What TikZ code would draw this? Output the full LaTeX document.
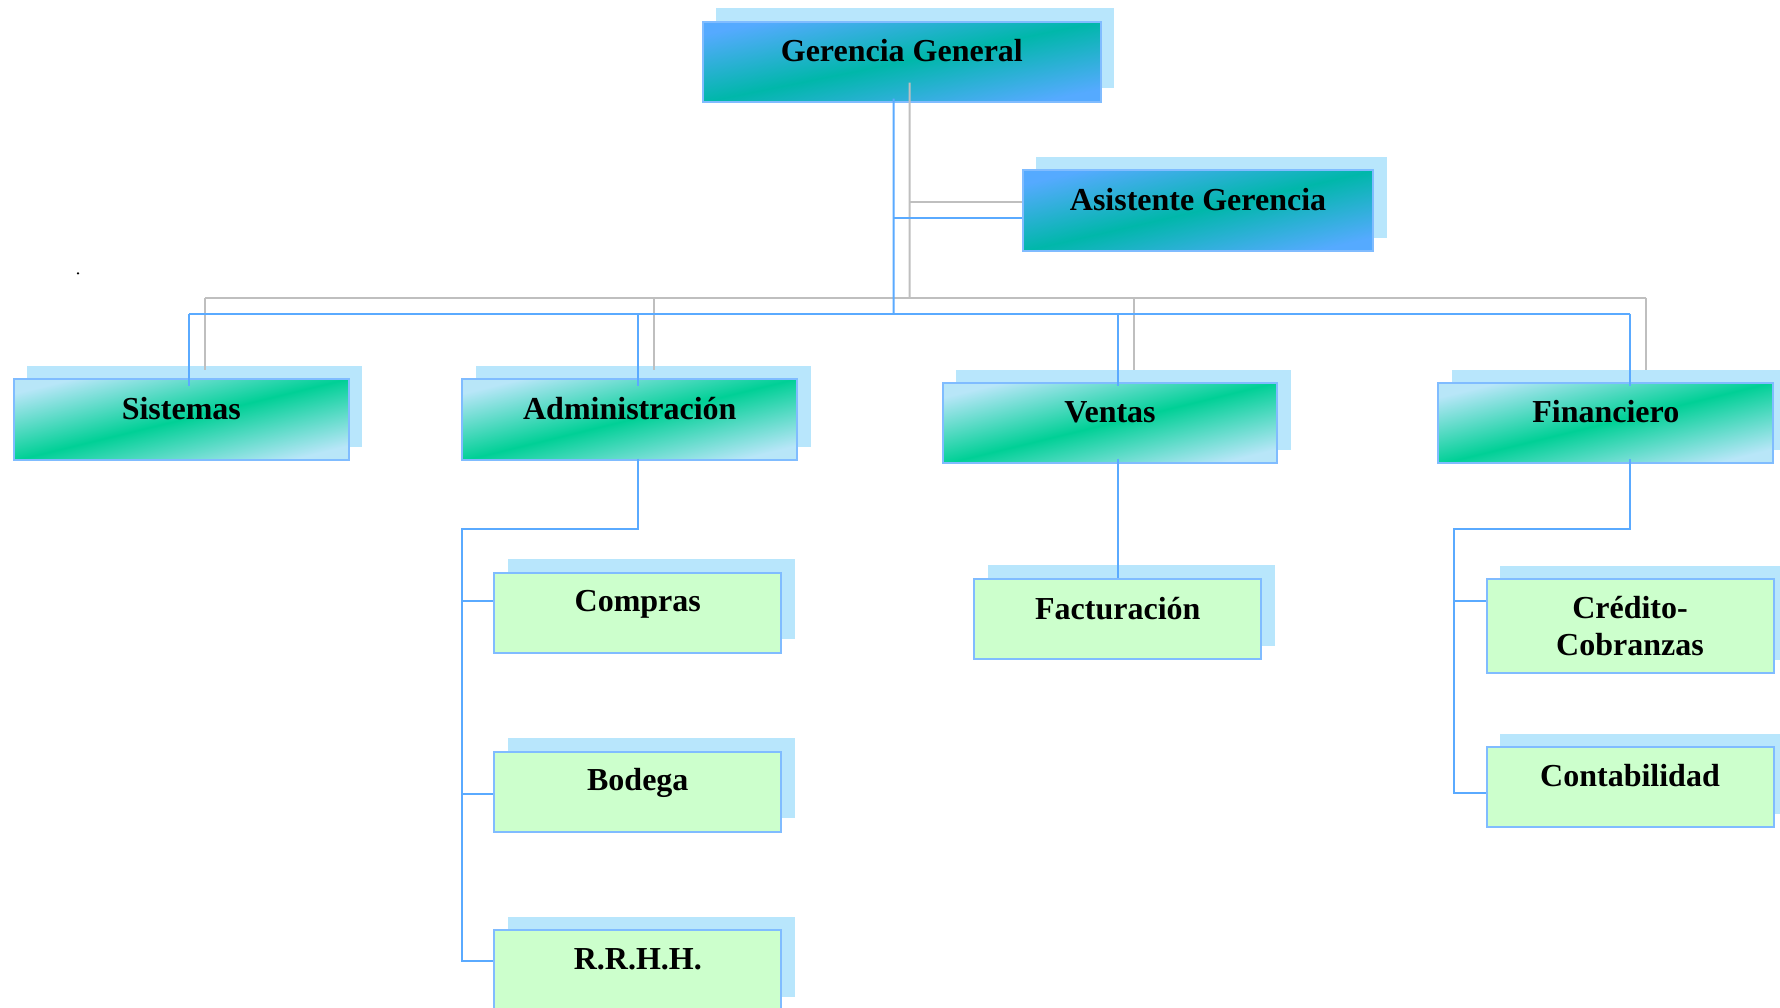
\documentclass[tikz,border=0pt]{standalone}
\usepackage{fontspec}
\setmainfont{Liberation Serif}
\usetikzlibrary{calc,shadows}

\definecolor{topblue}{HTML}{55AAFF}
\definecolor{topteal}{HTML}{00B7AA}
\definecolor{midlight}{HTML}{B8E6F8}
\definecolor{midgreen}{HTML}{00D096}
\definecolor{backcol}{HTML}{B8E6FC}
\definecolor{leaffill}{HTML}{CCFFCC}
\definecolor{edgecol}{HTML}{80BCFF}
\definecolor{linkblue}{HTML}{5AAAFF}
\definecolor{linkgray}{HTML}{BFBFBF}

\tikzset{
  box/.style={rectangle, draw=edgecol, line width=2pt, inner sep=0pt,
    general shadow={fill=backcol, shadow xshift=13.4pt, shadow yshift=13.5pt}},
  topbox/.style={box, top color=topblue, bottom color=topblue,
    middle color=topteal, shading angle=11.5, minimum height=80pt},
  midbox/.style={box, top color=midlight, bottom color=midlight,
    middle color=midgreen, shading angle=13.8, minimum height=81pt},
  leafbox/.style={box, fill=leaffill, minimum width=287pt, minimum height=80pt},
  txt/.style={anchor=base, inner sep=0pt, font=\bfseries\fontsize{32}{37}\selectfont},
  link/.style={draw=linkblue, line width=2pt},
  shadowlink/.style={draw=linkgray, line width=2pt}
}

\begin{document}
\begin{tikzpicture}[x=1pt, y=-1pt]
\useasboundingbox (0,0) rectangle (1780,1008);
\clip (0,0) rectangle (1780,1008);
\fill[white] (0,0) rectangle (1780,1008);

% boxes
\node[topbox, minimum width=398.3pt] (gg) at (901.85, 61.7) {};
\node[topbox, minimum width=350.6pt, minimum height=81pt, shading angle=13] (ag) at (1198, 210.8) {};

\node[midbox, minimum width=335.3pt] (sis) at (181.35, 419.5) {};
\node[midbox, minimum width=335pt] (adm) at (629.8, 419.5) {};
\node[midbox, minimum width=334.6pt, minimum height=80.3pt] (ven) at (1110, 423.15) {};
\node[midbox, minimum width=335pt, minimum height=80.3pt] (fin) at (1605.8, 423.15) {};

\node[leafbox] (com) at (637.8, 612.7) {};
\node[leafbox] (bod) at (637.8, 791.7) {};
\node[leafbox] (rrhh) at (637.8, 970) {};
\node[leafbox, minimum height=80.3pt] (fac) at (1117.8, 618.85) {};
\node[leafbox, minimum height=94pt] (cc) at (1630, 626.3) {};
\node[leafbox] (con) at (1630, 787.3) {};

% junctions of the connector network
\coordinate (bus) at (893.7, 313.7);
\coordinate (gbus) at (909.7, 297.7);
\coordinate (admj) at (462, 529);
\coordinate (finj) at (1454, 529);

% entry points on the second row
\coordinate (sisin) at ([xshift=8pt]sis.north);
\coordinate (admin) at ([xshift=7.9pt]adm.north);
\coordinate (venin) at ([xshift=7.7pt]ven.north);
\coordinate (finin) at ([xshift=24.2pt]fin.north);
\coordinate (gsisin) at ([xshift=24pt]sis.north);
\coordinate (gadmin) at ([xshift=23.9pt]adm.north);
\coordinate (gvenin) at ([xshift=23.7pt]ven.north);
\coordinate (gfinin) at ([xshift=40.2pt]fin.north);

% grey offset copy of the upper connectors
\draw[shadowlink] ([xshift=7.8pt,yshift=20pt]gg.south) -- (gbus);
\draw[shadowlink] ([yshift=9.1pt]ag.west) -- ([yshift=9.1pt]ag.west -| gbus);
\draw[shadowlink] (gsisin |- gbus) -- (gfinin |- gbus);
\draw[shadowlink] (gsisin |- gbus) -- ([yshift=8.3pt]gsisin);
\draw[shadowlink] (gadmin |- gbus) -- ([yshift=8.3pt]gadmin);
\draw[shadowlink] (gvenin |- gbus) -- ([yshift=12.3pt]gvenin);
\draw[shadowlink] (gfinin |- gbus) -- ([yshift=12.3pt]gfinin);

% blue connectors
\draw[link] ([xshift=-8.15pt,yshift=4pt]gg.south) -- (bus);
\draw[link] ([yshift=-6.9pt]ag.west) -- ([yshift=-6.9pt]ag.west -| bus);
\draw[link] (sisin |- bus) -- (finin |- bus);
\draw[link] (sisin |- bus) -- ([yshift=-7.7pt]sisin);
\draw[link] (admin |- bus) -- ([yshift=-7.7pt]admin);
\draw[link] (venin |- bus) -- ([yshift=-3.7pt]venin);
\draw[link] (finin |- bus) -- ([yshift=-3.7pt]finin);

% Administración branch
\path ([yshift=-29pt]com.north west) coordinate (comin);
\path ([yshift=-43pt]bod.north west) coordinate (bodin);
\draw[link] ([yshift=2.5pt]adm.south -| com.north) |- (admj) |- ([yshift=-32pt]rrhh.north west);
\draw[link] (comin -| admj) -- (comin);
\draw[link] (bodin -| admj) -- (bodin);

% Ventas branch
\draw[link] ([yshift=5.6pt]ven.south -| fac.north) -- (fac.north);

% Financiero branch
\path ([yshift=-22.7pt]cc.north west) coordinate (ccin);
\draw[link] ([yshift=5pt]fin.south -| cc.north) |- (finj) |- ([yshift=-46.7pt]con.north west);
\draw[link] (ccin -| finj) -- (ccin);

% labels
\node[txt] (gg-t) at ([yshift=-41pt]gg.north) {Gerencia General};
\node[txt] (ag-t) at ([yshift=-41.4pt]ag.north) {Asistente Gerencia};
\node[txt] (sis-t) at ([yshift=-41pt]sis.north) {Sistemas};
\node[txt] (adm-t) at ([yshift=-41pt]adm.north) {Administración};
\node[txt] (ven-t) at ([yshift=-40.5pt]ven.north) {Ventas};
\node[txt] (fin-t) at ([yshift=-40.5pt]fin.north) {Financiero};
\node[txt] (com-t) at ([yshift=-40pt]com.north) {Compras};
\node[txt] (bod-t) at ([yshift=-40pt]bod.north) {Bodega};
\node[txt] (rrhh-t) at ([yshift=-40pt]rrhh.north) {R.R.H.H.};
\node[txt] (fac-t) at ([yshift=-41.3pt]fac.north) {Facturación};
\node[txt] (cc-t) at ([yshift=-39.7pt]cc.north) {\begin{tabular}[t]{@{}c@{}}Crédito-\\Cobranzas\end{tabular}};
\node[txt] (con-t) at ([yshift=-40pt]con.north) {Contabilidad};

% stray dot at the left
\node[circle, fill=black, inner sep=0pt, minimum size=2.5pt] (dot) at (78, 273.3) {};
\end{tikzpicture}
\end{document}
